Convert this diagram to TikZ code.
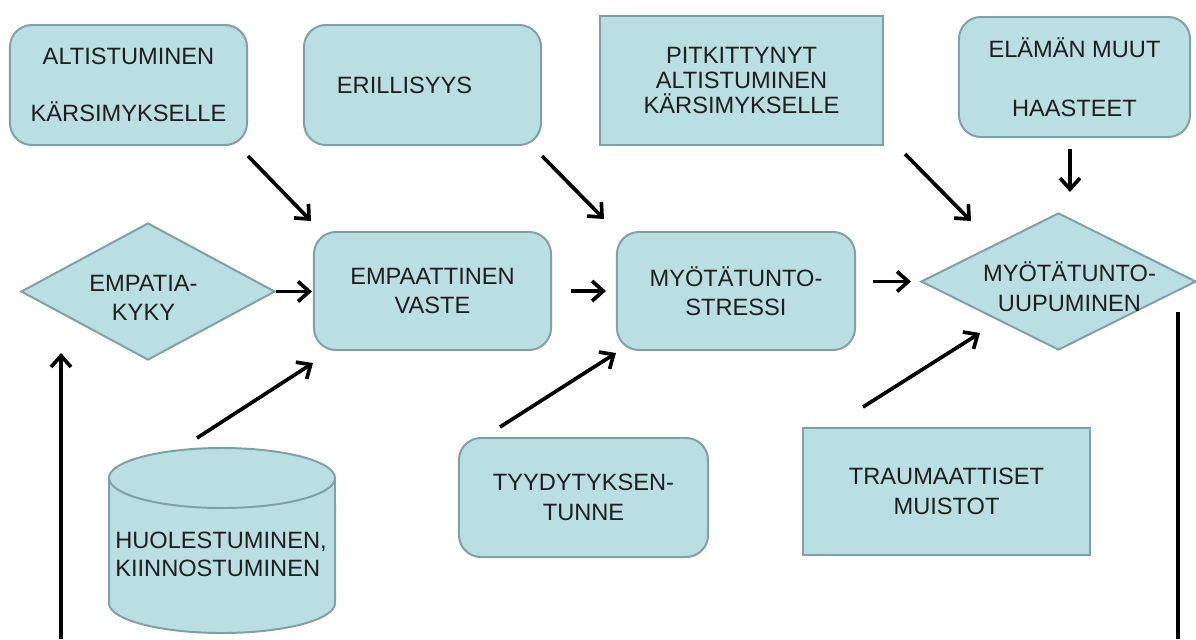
\documentclass[tikz,border=0pt]{standalone}
\usepackage{fontspec}
\setmainfont{Liberation Sans}
\usetikzlibrary{shapes.geometric,arrows.meta,calc}
\definecolor{boxfill}{HTML}{BADFE3}
\definecolor{boxline}{HTML}{7FA0A5}
\definecolor{txt}{HTML}{1E1E1E}
\tikzset{
  base/.style={fill=boxfill, draw=boxline, line width=1.4pt, text=txt,
    font=\fontsize{16.8}{21}\selectfont, align=center, inner sep=0pt},
  rbox/.style={base, rectangle, rounded corners=0.55cm},
  sbox/.style={base, rectangle},
  dia/.style={base, diamond},
  lbl/.style={text=txt, font=\fontsize{16.8}{21}\selectfont, align=center, inner sep=0pt},
  arr/.style={line width=2.6pt, -{Straight Barb[length=2.8mm,width=5mm]}},
  plainline/.style={line width=2.6pt}
}
\begin{document}
\begin{tikzpicture}[x=0.025cm, y=-0.025cm]
\useasboundingbox (0,0) rectangle (1196,639);
% top row
\node[rbox, minimum width=5.925cm, minimum height=3cm, font=\fontsize{16.8}{40.5}\selectfont] (alt) at (128.5,85) {ALTISTUMINEN\\KÄRSIMYKSELLE};
\node[rbox, minimum width=5.925cm, minimum height=3cm, text width=4.275cm, align=left] (eri) at (422.5,85) {ERILLISYYS};
\node[sbox, minimum width=7.075cm, minimum height=3.225cm, font=\fontsize{16.8}{17.5}\selectfont] (pit) at (741.5,80.5) {PITKITTYNYT\\ALTISTUMINEN\\KÄRSIMYKSELLE};
\node[rbox, minimum width=5.775cm, minimum height=3cm, font=\fontsize{16.8}{42}\selectfont] (ela) at (1074.5,77) {ELÄMÄN MUUT\\HAASTEET};
% middle row
\node[dia, minimum width=6.35cm, minimum height=3.425cm] (emp) at (148,291.5) {};
\node[lbl, font=\fontsize{16.8}{20.6}\selectfont] (empt) at ([shift={(-4.5,6)}]emp.center) {EMPATIA-\\KYKY};
\node[rbox, minimum width=5.925cm, minimum height=2.95cm] (vas) at (432.5,291) {EMPAATTINEN\\VASTE};
\node[rbox, minimum width=5.95cm, minimum height=2.95cm] (str) at (736,291) {MYÖTÄTUNTO-\\STRESSI};
\node[dia, minimum width=6.875cm, minimum height=3.425cm] (uup) at (1058.5,281.5) {};
\node[lbl] (uupt) at ([shift={(11,5)}]uup.center) {MYÖTÄTUNTO-\\UUPUMINEN};
% bottom row
\filldraw[fill=boxfill, draw=boxline, line width=1.4pt]
  (109,478) -- (109,603) arc[start angle=180, end angle=360, x radius=2.825cm, y radius=0.75cm]
  -- (335,478) arc[start angle=0, end angle=180, x radius=2.825cm, y radius=0.75cm] -- cycle;
\draw[draw=boxline, line width=1.4pt] (109,478) arc[start angle=180, end angle=360, x radius=2.825cm, y radius=0.75cm];
\coordinate (cyltop) at (222,448);
\node[lbl, align=left, font=\fontsize{16.8}{20}\selectfont] (huo) at (221,554) {HUOLESTUMINEN,\\KIINNOSTUMINEN};
\node[rbox, minimum width=6.225cm, minimum height=2.975cm] (tyy) at (583.5,497.5) {TYYDYTYKSEN-\\TUNNE};
\node[sbox, minimum width=7.175cm, minimum height=3.175cm] (tra) at (946.5,491.5) {TRAUMAATTISET\\MUISTOT};
% connectors
\draw[arr] ([shift={(0,10)}]alt.south east) -- ([shift={(-2,-10)}]vas.north west);
\draw[arr] ([shift={(0,10)}]eri.south east) -- ([shift={(-12,-12)}]str.north west);
\draw[arr] ([shift={(21,8)}]pit.south east) -- ([shift={(-87.5,9)}]uup.north);
\draw[arr] ([shift={(-4.5,11)}]ela.south) -- ($(ela.south |- uup.north)+(-4.5,-20)$);
\draw[arr] (emp.east) -- ($(emp.east -| vas.west)+(-1,0)$);
\draw[arr] ([shift={(19,0)}]vas.east) -- ([shift={(-10,0)}]str.west);
\draw[arr] ($(str.east |- uup.west)+(17,0)$) -- ([shift={(-9,0)}]uup.west);
\draw[arr] ($(cyltop)+(-25,-10)$) -- ([shift={(0,12)}]vas.south west);
\draw[arr] ([shift={(42,-10)}]tyy.north west) -- ([shift={(0,2)}]str.south west);
\draw[arr] ([shift={(61,-20)}]tra.north west) -- ([shift={(-78.5,-18)}]uup.south);
\coordinate (lbot) at (61,639);
\coordinate (rbot) at (1178,639);
\draw[arr] (lbot) -- ($(lbot |- emp.south)+(0,-8)$);
\draw[plainline] ($(rbot |- uup.east)+(0,30.5)$) -- (rbot);
\end{tikzpicture}
\end{document}
